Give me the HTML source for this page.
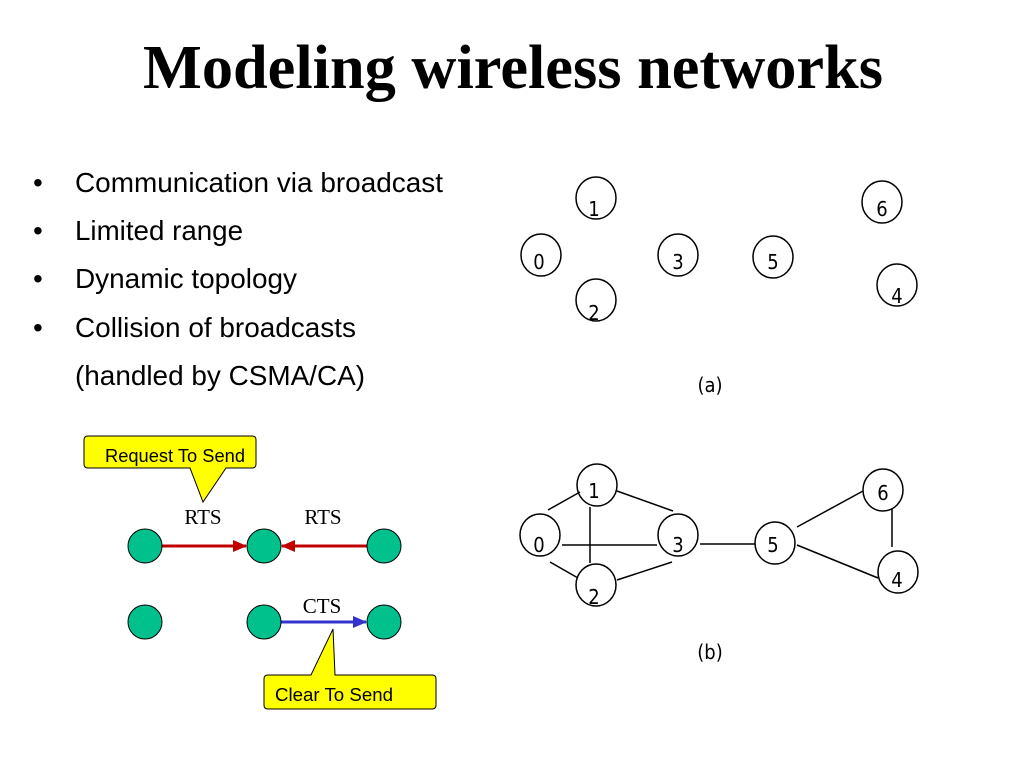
<!DOCTYPE html>
<html><head><style>
body{margin:0;width:1024px;height:768px;background:#fff;overflow:hidden}
</style></head><body>
<svg width="1024" height="768" xmlns="http://www.w3.org/2000/svg">
<text x="513" y="88" text-anchor="middle" font-family="Liberation Serif, serif" font-weight="bold" font-size="62" textLength="740" lengthAdjust="spacingAndGlyphs">Modeling wireless networks</text>
<g font-family="Liberation Sans, sans-serif" font-size="28" fill="#000">
<text x="33" y="192">•</text><text x="75" y="192" textLength="368" lengthAdjust="spacingAndGlyphs">Communication via broadcast</text>
<text x="33" y="240">•</text><text x="75" y="240" textLength="168" lengthAdjust="spacingAndGlyphs">Limited range</text>
<text x="33" y="288">•</text><text x="75" y="288" textLength="222" lengthAdjust="spacingAndGlyphs">Dynamic topology</text>
<text x="33" y="337">•</text><text x="75" y="337" textLength="281" lengthAdjust="spacingAndGlyphs">Collision of broadcasts</text>
<text x="75" y="385" textLength="290" lengthAdjust="spacingAndGlyphs">(handled by CSMA/CA)</text>
</g>
<defs>
<marker id="ar" markerWidth="14" markerHeight="14" refX="13" refY="7" orient="auto" markerUnits="userSpaceOnUse"><path d="M0,1 L14,7 L0,13z" fill="#c00000"/></marker>
<marker id="ab" markerWidth="14" markerHeight="14" refX="13" refY="7" orient="auto" markerUnits="userSpaceOnUse"><path d="M0,1 L14,7 L0,13z" fill="#3333cc"/></marker>
</defs>
<path d="M88,436 H252 Q256,436 256,440 V464 Q256,468 252,468 H226 L203,502 L190,468 H88 Q84,468 84,464 V440 Q84,436 88,436z" fill="#ffff00" stroke="#000" stroke-width="1"/>
<text x="175" y="462" text-anchor="middle" font-family="Liberation Sans, sans-serif" font-size="18" textLength="140" lengthAdjust="spacingAndGlyphs">Request To Send</text>
<path d="M268,675 H311 L333,629 L335,675 H432 Q436,675 436,679 V705 Q436,709 432,709 H268 Q264,709 264,705 V679 Q264,675 268,675z" fill="#ffff00" stroke="#000" stroke-width="1"/>
<text x="334" y="701" text-anchor="middle" font-family="Liberation Sans, sans-serif" font-size="18" textLength="118" lengthAdjust="spacingAndGlyphs">Clear To Send</text>
<g font-family="Liberation Serif, serif" font-size="21" text-anchor="middle">
<text x="203" y="524">RTS</text><text x="323" y="524">RTS</text><text x="322" y="613">CTS</text>
</g>
<line x1="162" y1="546" x2="246" y2="546" stroke="#c00000" stroke-width="3" marker-end="url(#ar)"/>
<line x1="367" y1="546" x2="282" y2="546" stroke="#c00000" stroke-width="3" marker-end="url(#ar)"/>
<line x1="281" y1="622" x2="366" y2="622" stroke="#3333cc" stroke-width="3" marker-end="url(#ab)"/>
<g fill="#00c08c" stroke="#000" stroke-width="1">
<circle cx="145" cy="546" r="17"/><circle cx="264" cy="546" r="17"/><circle cx="384" cy="546" r="17"/>
<circle cx="145" cy="622" r="17"/><circle cx="264" cy="622" r="17"/><circle cx="384" cy="622" r="17"/>
</g>
<g fill="none" stroke="#000" stroke-width="1.5">
<ellipse cx="596" cy="198" rx="20" ry="21"/><ellipse cx="541" cy="255" rx="20" ry="21"/><ellipse cx="678" cy="255" rx="20" ry="21"/>
<ellipse cx="773" cy="257" rx="20" ry="21"/><ellipse cx="882" cy="202" rx="20" ry="21"/><ellipse cx="596" cy="300" rx="20" ry="21"/><ellipse cx="897" cy="285" rx="20" ry="21"/>
</g>
<g font-family="DejaVu Sans Condensed, DejaVu Sans, sans-serif" font-size="20" text-anchor="middle">
<text x="594" y="216">1</text><text x="539" y="269">0</text><text x="678" y="269">3</text><text x="773" y="269">5</text><text x="882" y="216">6</text><text x="594" y="320">2</text><text x="897" y="303">4</text>
<text x="710" y="392">(a)</text>
</g>
<g stroke="#000" stroke-width="1.5">
<line x1="548" y1="510" x2="580" y2="492"/><line x1="617" y1="491" x2="673" y2="511"/>
<line x1="590" y1="507" x2="590" y2="563"/><line x1="562" y1="545" x2="657" y2="545"/>
<line x1="550" y1="562" x2="578" y2="578"/><line x1="617" y1="580" x2="672" y2="562"/>
<line x1="700" y1="544" x2="755" y2="544"/><line x1="797" y1="527" x2="863" y2="491"/>
<line x1="797" y1="545" x2="878" y2="578"/><line x1="892" y1="509" x2="892" y2="547"/>
</g>
<g fill="none" stroke="#000" stroke-width="1.5">
<ellipse cx="597" cy="485" rx="20" ry="21"/><ellipse cx="540" cy="535" rx="20" ry="21"/><ellipse cx="678" cy="535" rx="20" ry="21"/>
<ellipse cx="775" cy="543" rx="20" ry="21"/><ellipse cx="883" cy="490" rx="20" ry="21"/><ellipse cx="596" cy="585" rx="20" ry="21"/><ellipse cx="898" cy="572" rx="20" ry="21"/>
</g>
<g font-family="DejaVu Sans Condensed, DejaVu Sans, sans-serif" font-size="20" text-anchor="middle">
<text x="594" y="498">1</text><text x="539" y="552">0</text><text x="678" y="552">3</text><text x="773" y="552">5</text><text x="883" y="500">6</text><text x="594" y="604">2</text><text x="897" y="587">4</text>
<text x="710" y="659">(b)</text>
</g>
</svg>
</body></html>
